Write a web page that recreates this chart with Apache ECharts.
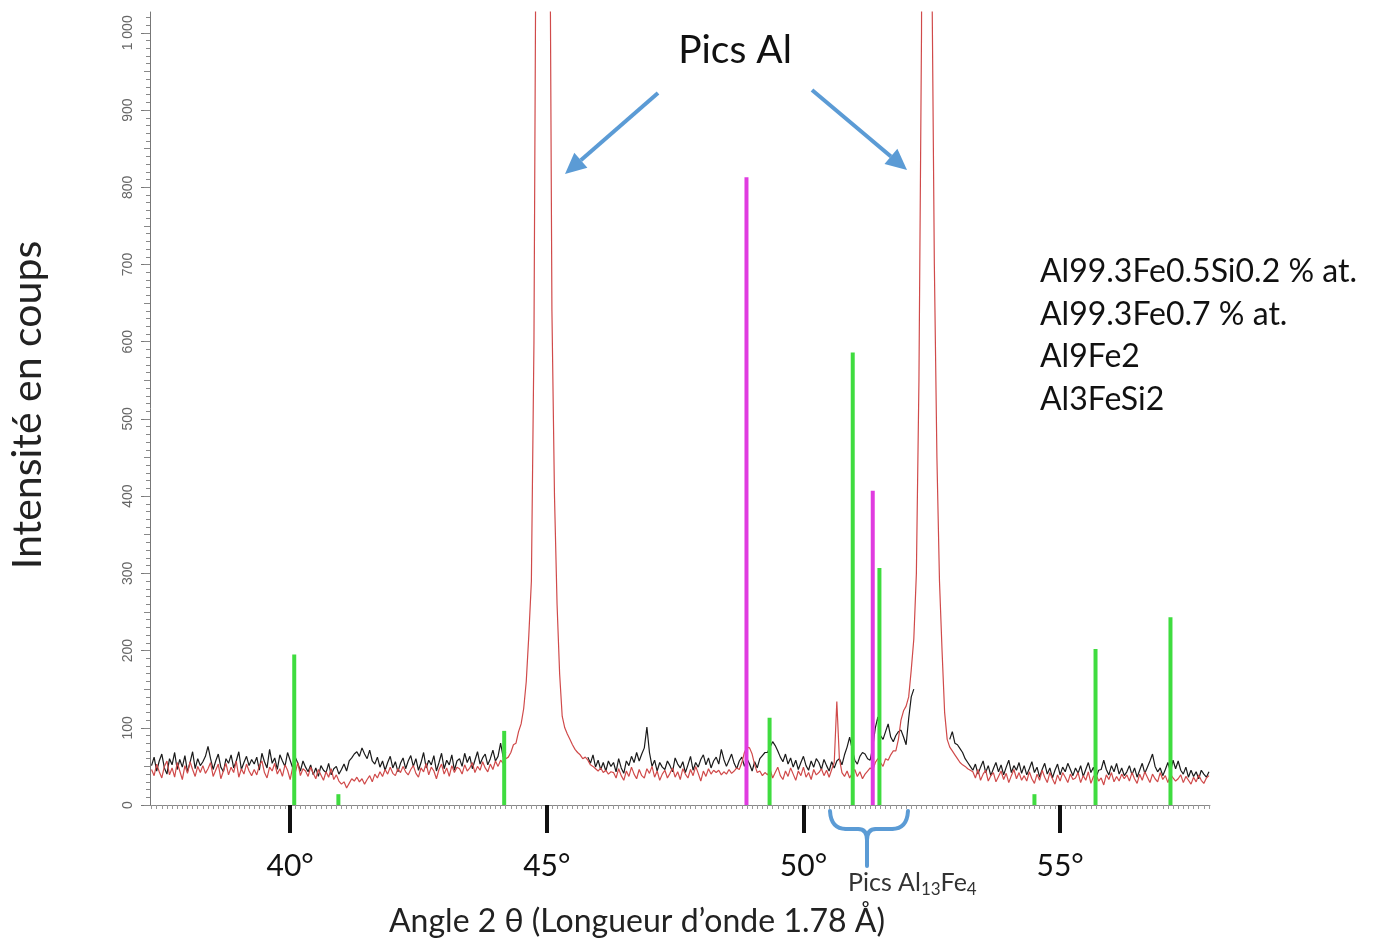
<!DOCTYPE html>
<html><head><meta charset="utf-8">
<script src="https://cdn.jsdelivr.net/npm/echarts@6/dist/echarts.min.js"></script>
<style>html,body{margin:0;padding:0;background:#fff}#c{width:1375px;height:942px}</style>
</head><body><div id="c"></div>
<script>
// ---------- DATA ----------
const seriesNames = ['Al99.3Fe0.5Si0.2 % at.', 'Al99.3Fe0.7 % at.', 'Al9Fe2', 'Al3FeSi2'];
const angleStart = 37.3;   // first sample angle (deg 2θ)
const angleStep = 0.05;    // sampling step (deg)
// Al99.3Fe0.5Si0.2 (black) counts, one row per degree
const blackCounts = [
 51,62,44,57,66,48,40,60,52,68,46,59,49,64,43,55,69,47,60,51,
 56,63,76,60,46,57,66,49,43,60,54,65,48,57,69,46,55,63,51,59,
 53,62,45,67,56,48,72,54,61,46,65,57,50,68,58,48,62,54,44,57,
 49,43,52,39,48,37,51,45,42,54,39,47,50,40,46,53,44,57,61,66,
 69,63,74,66,60,71,57,53,62,49,57,45,55,63,48,56,43,54,61,47,
 57,64,50,60,45,55,68,48,58,52,64,44,55,67,47,58,52,65,45,57,
 60,50,67,55,63,47,58,69,53,61,66,52,60,71,57,63,80,62,68,null,
 null,null,null,null,null,null,null,null,null,null,null,null,null,null,null,null,null,null,null,null,
 null,null,null,null,null,null,null,null,null,null,62,54,65,49,58,46,55,44,57,50,
 55,43,60,48,41,57,51,63,55,68,57,66,74,101,68,50,58,44,55,49,
 46,57,51,43,61,53,48,56,42,52,63,45,55,49,59,65,52,61,48,57,
 62,53,72,59,50,58,66,54,47,57,62,50,60,53,44,56,48,60,64,68,
 68,75,82,77,70,62,56,66,53,61,49,58,46,55,63,51,45,57,49,60,
 55,46,59,51,44,56,48,57,60,52,65,75,88,72,58,53,63,68,66,60,
 58,75,100,114,90,85,95,105,88,82,90,95,97,88,78,112,140,150,null,null,
 null,null,null,null,null,null,null,null,null,null,null,85,95,80,78,73,68,60,55,50,
 45,53,40,49,57,42,51,38,47,55,43,52,39,49,58,42,51,45,55,41,
 51,39,47,56,42,49,36,46,54,40,48,35,45,53,39,49,43,54,46,38,
 48,41,51,37,46,55,42,49,36,45,46,58,46,39,51,43,54,40,48,38,
 43,51,39,48,36,45,54,41,49,57,66,50,43,48,38,46,55,43,58,47,
 57,45,40,49,36,45,37,43,34,45,40,36,43
];
// Al99.3Fe0.7 (red) counts
const redCounts = [
 46,38,53,43,35,50,57,39,48,36,55,44,33,51,41,56,46,37,50,42,
 51,41,47,55,37,45,53,34,44,54,39,49,42,57,36,47,40,53,44,38,
 46,39,51,57,42,35,49,44,54,40,47,37,52,45,33,49,42,55,38,47,
 44,37,49,41,34,46,39,32,43,36,47,33,39,31,27,30,22,28,34,31,
 36,30,34,27,33,38,30,40,35,43,37,46,40,49,41,38,47,42,50,43,
 39,46,51,41,36,48,43,54,39,49,44,34,46,53,40,48,37,51,42,49,
 47,40,52,44,48,55,42,50,45,56,48,43,53,46,57,50,58,54,60,62,
 68,78,80,95,105,125,160,220,290,600,1300,3000,5500,5500,3000,1300,640,400,260,170,
 115,100,92,85,78,72,68,65,60,62,58,52,50,47,44,48,42,45,40,43,
 42,35,47,38,32,44,37,49,40,34,46,38,35,47,41,50,36,44,32,40,
 45,35,41,48,36,43,33,47,40,35,46,38,50,41,31,44,37,47,40,45,
 42,45,39,43,40,46,41,44,48,46,55,68,75,74,66,52,42,44,38,42,
 39,46,35,42,49,38,33,44,37,48,40,32,44,38,49,36,42,33,46,39,
 42,47,38,45,36,46,55,134,60,42,37,44,35,41,46,37,43,34,40,44,
 48,45,55,60,55,50,60,58,65,70,70,85,110,122,128,140,175,215,300,550,
 1000,2500,5000,4000,1100,700,450,290,200,120,85,75,70,65,60,55,52,50,47,45,
 43,35,46,32,40,45,31,38,42,30,37,44,33,41,29,38,46,34,42,32,
 38,31,43,34,28,40,32,45,36,29,42,34,27,39,31,42,36,29,40,33,
 35,42,29,38,32,43,28,37,40,31,35,26,39,33,42,30,37,31,40,34,
 39,31,42,34,28,40,32,43,36,29,40,34,30,42,33,38,29,40,35,31,
 34,39,29,37,32,27,36,30,39,32,28,35,38
];
// reference stick patterns
const al9fe2Angles = [40.08, 40.94, 44.17, 49.34, 50.96, 51.48, 54.50, 55.69, 57.15];
const al9fe2Counts = [195, 14, 96, 113, 586, 307, 14, 202, 243];
const al3fesi2Angles = [48.89, 51.35];
const al3fesi2Counts = [813, 407];
// ticks
const xMajorTicks = [40, 45, 50, 55];
const xTickLabels = ['40°', '45°', '50°', '55°'];
const yMajorTicks = [0, 100, 200, 300, 400, 500, 600, 700, 800, 900, 1000];
const yTickLabels = ['0', '100', '200', '300', '400', '500', '600', '700', '800', '900', '1 000'];

// ---------- BUILD ----------
const X_MIN = 37.27, X_MAX = 57.92, Y_MAX = 1027;
const toPairs = arr => arr.map((v, i) => [+(angleStart + i * angleStep).toFixed(2), v]);
const sticks = (a, c) => a.map((x, i) => [x, c[i]]);
const xMinor = []; for (let k = 373; k <= 579; k++) xMinor.push(k / 10);
const yMinor = []; for (let k = 0; k <= 102; k++) yMinor.push(k * 10);
const yMid = []; for (let k = 0; k <= 20; k++) yMid.push(k * 50);

function stickSeries(name, data, color) {
  return {
    name, type: 'custom', xAxisIndex: 0, yAxisIndex: 0, data, z: 5,
    renderItem: (params, api) => {
      const b = api.coord([api.value(0), 0]);
      const t = api.coord([api.value(0), api.value(1)]);
      return { type: 'rect', shape: { x: b[0] - 2, y: t[1], width: 4, height: b[1] - t[1] },
               style: { fill: color } };
    }
  };
}

function arrow(tail, tip, color) {
  const dx = tip[0] - tail[0], dy = tip[1] - tail[1];
  const L = Math.hypot(dx, dy), ux = dx / L, uy = dy / L;
  const hl = 21, hw = 10;
  const bx = tip[0] - ux * hl, by = tip[1] - uy * hl;
  return [
    { type: 'line', shape: { x1: tail[0], y1: tail[1], x2: bx, y2: by }, style: { stroke: color, lineWidth: 4 } },
    { type: 'polygon', shape: { points: [tip, [bx - uy * hw, by + ux * hw], [bx + uy * hw, by - ux * hw]] }, style: { fill: color } }
  ];
}
function seg(x1, y1, x2, y2) {
  return { type: 'line', shape: { x1, y1, x2, y2 }, style: { stroke: blue, lineWidth: 4, lineCap: 'round' } };
}
function curve(x1, y1, cx, cy, x2, y2) {
  return { type: 'bezierCurve', shape: { x1, y1, x2, y2, cpx1: cx, cpy1: cy }, style: { stroke: blue, lineWidth: 4, fill: null, lineCap: 'round' } };
}

const FONT = 'Lato, "Open Sans", sans-serif';
const blue = '#5b9bd5';
const chart = echarts.init(document.getElementById('c'), null, { renderer: 'canvas' });
chart.setOption({
  animation: false,
  backgroundColor: '#fff',
  grid: { left: 150, right: 165, top: 12, bottom: 137 },
  xAxis: [
    { type: 'value', min: X_MIN, max: X_MAX, position: 'bottom',
      axisLine: { lineStyle: { color: '#888', width: 1 } },
      axisTick: { customValues: xMinor, length: 4, lineStyle: { color: '#999' } },
      axisLabel: { show: false }, splitLine: { show: false } },
    { type: 'value', min: X_MIN, max: X_MAX, position: 'bottom', offset: 10,
      axisLine: { show: false },
      axisTick: { customValues: xMajorTicks, length: 28, lineStyle: { color: '#111', width: 4 } },
      axisLabel: { customValues: xMajorTicks, margin: 36, fontSize: 30, color: '#111', fontFamily: FONT,
                   formatter: v => xTickLabels[xMajorTicks.indexOf(v)] },
      splitLine: { show: false } }
  ],
  yAxis: [
    { type: 'value', min: 0, max: Y_MAX, position: 'left',
      axisLine: { show: true, lineStyle: { color: '#777' } },
      axisTick: { customValues: yMajorTicks, length: 9, lineStyle: { color: '#777' } },
      axisLabel: { customValues: yMajorTicks, rotate: 90, margin: 15, fontSize: 14, color: '#666',
                   fontFamily: 'Liberation Sans, Arial, sans-serif',
                   formatter: v => yTickLabels[yMajorTicks.indexOf(v)] },
      splitLine: { show: false } },
    { type: 'value', min: 0, max: Y_MAX, position: 'left', axisLine: { show: false },
      axisTick: { customValues: yMinor, length: 4, lineStyle: { color: '#888' } },
      axisLabel: { show: false }, splitLine: { show: false } },
    { type: 'value', min: 0, max: Y_MAX, position: 'left', axisLine: { show: false },
      axisTick: { customValues: yMid, length: 6, lineStyle: { color: '#888' } },
      axisLabel: { show: false }, splitLine: { show: false } }
  ],
  series: [
    { name: seriesNames[0], type: 'line', data: toPairs(blackCounts), showSymbol: false, symbol: 'none',
      connectNulls: false, lineStyle: { color: '#1a1a1a', width: 1.2 }, z: 2 },
    { name: seriesNames[1], type: 'line', data: toPairs(redCounts), showSymbol: false, symbol: 'none',
      connectNulls: false, lineStyle: { color: '#d04a4a', width: 1.2 }, z: 3 },
    stickSeries(seriesNames[2], sticks(al9fe2Angles, al9fe2Counts), '#3fdc3f'),
    stickSeries(seriesNames[3], sticks(al3fesi2Angles, al3fesi2Counts), '#e03ce0')
  ],
  graphic: [
    { type: 'text', x: 28, y: 405, rotation: Math.PI / 2,
      style: { text: 'Intensité en coups', font: '41px ' + FONT, fill: '#222', align: 'center', verticalAlign: 'middle' } },
    { type: 'text', x: 637, y: 922,
      style: { text: 'Angle 2 θ (Longueur d’onde 1.78 Å)', font: '32px ' + FONT, fill: '#222', align: 'center', verticalAlign: 'middle' } },
    { type: 'text', x: 735, y: 50,
      style: { text: 'Pics Al', font: '39px ' + FONT, fill: '#111', align: 'center', verticalAlign: 'middle' } },
    { type: 'text', x: 1040, y: 272, style: { text: seriesNames[0], font: '32px ' + FONT, fill: '#111', align: 'left', verticalAlign: 'middle' } },
    { type: 'text', x: 1040, y: 315, style: { text: seriesNames[1], font: '32px ' + FONT, fill: '#111', align: 'left', verticalAlign: 'middle' } },
    { type: 'text', x: 1040, y: 357, style: { text: seriesNames[2], font: '32px ' + FONT, fill: '#111', align: 'left', verticalAlign: 'middle' } },
    { type: 'text', x: 1040, y: 400, style: { text: seriesNames[3], font: '32px ' + FONT, fill: '#111', align: 'left', verticalAlign: 'middle' } },
    ...arrow([658, 93], [565, 174], blue),
    ...arrow([812, 90], [907, 170], blue),
    curve(830, 811, 831, 829, 846, 829),
    seg(846, 829, 858, 829),
    curve(858, 829, 867, 829, 867, 840),
    seg(867, 840, 867, 866),
    curve(867, 840, 867, 829, 876, 829),
    seg(876, 829, 892, 829),
    curve(892, 829, 907, 829, 908, 811),
    { type: 'text', x: 848, y: 883,
      style: { text: 'Pics Al{s|13}Fe{s|4}', font: '25px ' + FONT, fill: '#333', align: 'left', verticalAlign: 'middle',
               rich: { s: { fontSize: 17, fontFamily: 'Lato', fill: '#333', padding: [13, 0, 0, 0] } } } }
  ]
});
</script></body></html>
